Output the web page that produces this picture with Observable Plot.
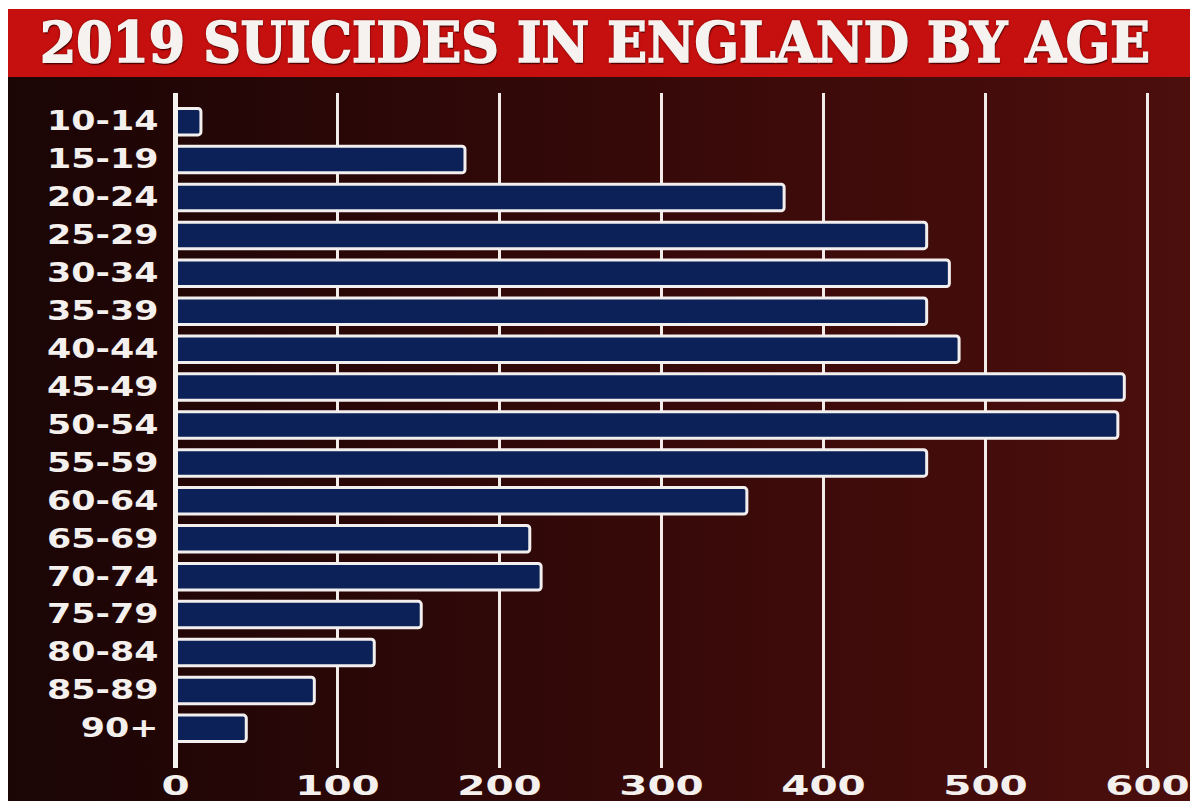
<!DOCTYPE html>
<html>
<head>
<meta charset="utf-8">
<script src="https://cdn.jsdelivr.net/npm/d3@7"></script>
<script src="https://cdn.jsdelivr.net/npm/@observablehq/plot@0.6"></script>
<style>
  html, body { margin: 0; padding: 0; background: #ffffff; }
  body { width: 1193px; height: 801px; overflow: hidden; position: relative; }
  #frame { position: absolute; left: 8px; top: 9px; width: 1182px; height: 792px; }
  #title {
    height: 68px; background: #c5100f; position: relative; overflow: hidden;
  }
  #title h1 {
    margin: 0; position: absolute; left: 32px; top: 3px;
    font-family: "DejaVu Serif Condensed", "DejaVu Serif", serif; font-weight: bold;
    font-size: 56px; line-height: 60px; color: #f6f2f0; white-space: nowrap;
    transform-origin: 0 50%;
    -webkit-text-stroke: 1.6px #f6f2f0;
    text-shadow: 0 0 3px #4a0000, 1px 2px 1px #4a0000;
  }
  #chart {
    height: 724px;
    background: linear-gradient(to right, #1b0505 0%, #2a0707 30%, #3e0b0a 70%, #4b0f0c 100%);
  }
  #chart svg { display: block; }
</style>
</head>
<body>
<div id="frame">
  <div id="title"><h1>2019 SUICIDES IN ENGLAND BY AGE</h1></div>
  <div id="chart"></div>
</div>
<script>
const ages = ["10-14","15-19","20-24","25-29","30-34","35-39","40-44","45-49","50-54","55-59","60-64","65-69","70-74","75-79","80-84","85-89","90+"];
const suicides = [16, 179, 376, 464, 478, 464, 484, 586, 582, 464, 353, 219, 226, 152, 123, 86, 44];
const xTicks = [0, 100, 200, 300, 400, 500, 600];

const data = ages.map((a, i) => ({age: a, value: suicides[i]}));

const fontFam = "'DejaVu Sans', sans-serif";

const plot = Plot.plot({
  width: 1182,
  height: 724,
  marginLeft: 167,
  marginRight: 43,
  marginTop: 20,
  marginBottom: 48,
  style: {background: "transparent", color: "#f4f0ee", fontFamily: fontFam},
  x: {domain: [0, 600], ticks: xTicks},
  y: {domain: ages, padding: 0.3, round: false},
  marks: [
    Plot.ruleX(xTicks.filter(d => d > 0), {stroke: "#f1ece9", strokeWidth: 3, insetTop: -4, insetBottom: -15}),
    Plot.barX(data, {x: "value", y: "age", fill: "#0b2157", stroke: "#f3efee", strokeWidth: 3, rx: 3}),
    Plot.ruleX([0], {stroke: "#f6f2f0", strokeWidth: 5, insetTop: -4, insetBottom: -15}),
    Plot.axisX({ticks: xTicks, tickSize: 0, tickPadding: 22, fontSize: 27, fontWeight: "bold", label: null, fill: "#f4f0ee", stroke: "#f4f0ee", strokeWidth: 0.9}),
    Plot.axisY({tickSize: 0, tickPadding: 17, fontSize: 26, fontWeight: "bold", label: null, fill: "#f4f0ee", stroke: "#f4f0ee", strokeWidth: 0.9})
  ]
});
document.getElementById("chart").appendChild(plot);

// widen the tick labels to match the broad lettering of the original
function widen(sel, k) {
  plot.querySelectorAll(sel).forEach(t => {
    const w = t.getComputedTextLength();
    t.setAttribute("textLength", (w * k).toFixed(1));
    t.setAttribute("lengthAdjust", "spacingAndGlyphs");
  });
}
widen("g[aria-label='x-axis tick label'] text", 1.5);
widen("g[aria-label='y-axis tick label'] text", 1.34);

// fit the title to the band width
const h1 = document.querySelector("#title h1");
const tw = h1.getBoundingClientRect().width;
h1.style.transform = `scaleX(${(1110 / tw).toFixed(4)})`;
</script>
</body>
</html>
